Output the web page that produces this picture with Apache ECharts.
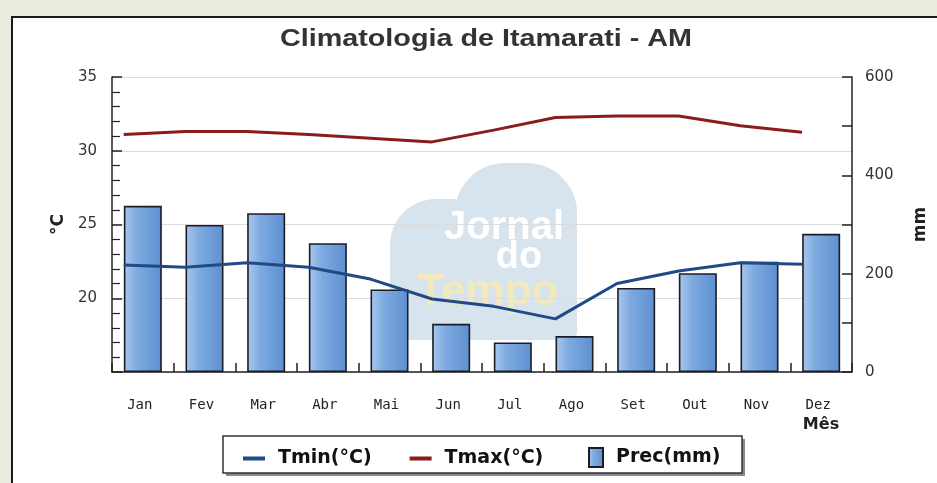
<!DOCTYPE html>
<html>
<head>
<meta charset="utf-8">
<script src="https://cdn.jsdelivr.net/npm/echarts@6/dist/echarts.min.js"></script>
<style>
html,body{margin:0;padding:0;background:#ecebe0;}
#c{width:937px;height:483px;}
</style>
</head>
<body>
<div id="c"></div>
<script>
// ---- data ----
const titleText = 'Climatologia de Itamarati - AM';
const months = ['Jan','Fev','Mar','Abr','Mai','Jun','Jul','Ago','Set','Out','Nov','Dez'];
const tmin = [22.25, 22.1, 22.4, 22.1, 21.3, 19.95, 19.45, 18.6, 21.0, 21.85, 22.4, 22.3];
const tmax = [31.1, 31.3, 31.3, 31.1, 30.85, 30.6, 31.4, 32.25, 32.35, 32.35, 31.7, 31.25];
const prec = [338, 299, 323, 262, 168, 98, 60, 73, 171, 201, 224, 281];
const tempTicks = {min: 15, max: 35, interval: 5};
const precTicks = {min: 0, max: 600, interval: 200};

// lines are drawn at the left edge of each bar, as in the original
const LINE_SHIFT = 0.19;
const toPts = arr => arr.map((v, i) => [i + LINE_SHIFT, v]);

const chart = echarts.init(document.getElementById('c'), null, {renderer: 'canvas'});
const axisCol = '#222';
const lblFont = 'DejaVu Sans';
const legFont = {fontFamily: 'DejaVu Sans', fontWeight: 'bold', fontSize: 19, color: '#111'};
const barGrad = () => new echarts.graphic.LinearGradient(0, 0, 1, 0, [
  {offset: 0, color: '#a8c8ee'}, {offset: 0.35, color: '#7eaae0'}, {offset: 1, color: '#5d8fd0'}
]);

chart.setOption({
  backgroundColor: '#ecebe0',
  animation: false,
  graphic: [
    {type: 'rect', z: -10, shape: {x: 12, y: 17, width: 940, height: 480},
     style: {fill: '#fff', stroke: '#1a1a1a', lineWidth: 2}},
    // title (horizontally stretched like the original)
    {type: 'text', z: 5, x: 486, y: 40, scaleX: 1.25,
     style: {text: titleText, align: 'center', verticalAlign: 'middle', fill: '#333', font: 'bold 23px Liberation Sans'}},
    // watermark
    {type: 'rect', z: -5, shape: {x: 390, y: 199, width: 108, height: 141, r: [46, 46, 0, 0]}, style: {fill: '#d7e3ed'}},
    {type: 'rect', z: -5, shape: {x: 455, y: 163, width: 122, height: 177, r: [50, 50, 8, 8]}, style: {fill: '#d7e3ed'}},
    {type: 'text', z: -4, style: {text: 'Jornal', x: 504, y: 228, align: 'center', verticalAlign: 'middle', fill: '#ffffff', font: 'bold 40px Liberation Sans'}},
    {type: 'text', z: -4, style: {text: 'do', x: 519, y: 258, align: 'center', verticalAlign: 'middle', fill: '#ffffff', font: 'bold 38px Liberation Sans'}},
    {type: 'text', z: -4, style: {text: 'Tempo', x: 488, y: 293, align: 'center', verticalAlign: 'middle', fill: '#f2e9bd', font: 'bold 44px Liberation Sans'}},
    // legend box with shadow
    {type: 'rect', z: 4, shape: {x: 226, y: 439, width: 519, height: 37}, style: {fill: '#8a8a8a'}},
    {type: 'rect', z: 5, shape: {x: 223, y: 436, width: 519, height: 37},
     style: {fill: '#fff', stroke: '#333', lineWidth: 1.5}}
  ],
  legend: [
    {
      z: 10, left: 238, top: 444, itemWidth: 22, itemHeight: 4, itemGap: 38,
      data: [{name: 'Tmin(°C)', icon: 'rect'}, {name: 'Tmax(°C)', icon: 'rect'}],
      textStyle: Object.assign({padding: [0, 0, 0, 8]}, legFont)
    },
    {
      z: 10, left: 583, top: 442, itemWidth: 14, itemHeight: 19,
      data: [{name: 'Prec(mm)', icon: 'rect'}],
      textStyle: Object.assign({padding: [0, 0, 0, 8]}, legFont)
    }
  ],
  grid: {left: 112, right: 84, top: 77, bottom: 111, containLabel: false},
  xAxis: [
    {
      type: 'category', data: months,
      name: 'Mês', nameLocation: 'end', nameGap: -31,
      nameTextStyle: {fontFamily: 'DejaVu Sans', fontWeight: 'bold', fontSize: 16, color: '#222', align: 'center', verticalAlign: 'top', padding: [45, 0, 0, 0]},
      axisLine: {lineStyle: {color: axisCol, width: 1.5}},
      axisTick: {show: true, inside: true, length: 9, interval: 0, lineStyle: {color: axisCol, width: 1.5}},
      axisLabel: {fontFamily: 'DejaVu Sans Mono', fontSize: 14, color: '#222', margin: 26, interval: 0, padding: [0, 6, 0, 0]},
      splitLine: {show: false}
    },
    {type: 'value', show: false, min: 0, max: 12}
  ],
  yAxis: [
    {
      type: 'value', min: tempTicks.min, max: tempTicks.max, interval: tempTicks.interval,
      name: '°C', nameLocation: 'middle', nameGap: 43, nameRotate: 90,
      nameTextStyle: {fontFamily: 'DejaVu Sans', fontWeight: 'bold', fontSize: 17, color: '#222'},
      axisLine: {show: true, lineStyle: {color: axisCol, width: 1.5}},
      axisTick: {show: true, inside: true, length: 10, lineStyle: {color: axisCol, width: 1.5}},
      minorTick: {show: true, splitNumber: 5, length: 8, lineStyle: {color: axisCol, width: 1.2}},
      axisLabel: {showMinLabel: false, fontFamily: lblFont, fontSize: 15, color: '#333', margin: 15, padding: [5, 0, 0, 0]},
      splitLine: {show: true, lineStyle: {color: '#dcdcdc', width: 1}}
    },
    {
      type: 'value', min: precTicks.min, max: precTicks.max, interval: precTicks.interval,
      name: 'mm', nameLocation: 'middle', nameGap: 60, nameRotate: 90,
      nameTextStyle: {fontFamily: 'DejaVu Sans', fontWeight: 'bold', fontSize: 17, color: '#222'},
      axisLine: {show: true, lineStyle: {color: axisCol, width: 1.5}},
      axisTick: {show: true, inside: true, length: 10, lineStyle: {color: axisCol, width: 1.5}},
      minorTick: {show: true, splitNumber: 2, length: 10, lineStyle: {color: axisCol, width: 1.5}},
      axisLabel: {fontFamily: lblFont, fontSize: 15, color: '#333', margin: 13},
      splitLine: {show: false}
    }
  ],
  series: [
    {
      name: 'Prec(mm)', type: 'bar', xAxisIndex: 0, yAxisIndex: 1, data: prec, barWidth: 38, z: 2,
      itemStyle: {color: barGrad(), borderColor: '#1c1c28', borderWidth: 1.6}
    },
    {
      name: 'Tmin(°C)', type: 'line', xAxisIndex: 1, yAxisIndex: 0, data: toPts(tmin), z: 4,
      symbol: 'none', lineStyle: {color: '#1f4a86', width: 3}, itemStyle: {color: '#1f4a86'}
    },
    {
      name: 'Tmax(°C)', type: 'line', xAxisIndex: 1, yAxisIndex: 0, data: toPts(tmax), z: 4,
      symbol: 'none', lineStyle: {color: '#8a1c1c', width: 3}, itemStyle: {color: '#8a1c1c'}
    }
  ]
});
</script>
</body>
</html>
